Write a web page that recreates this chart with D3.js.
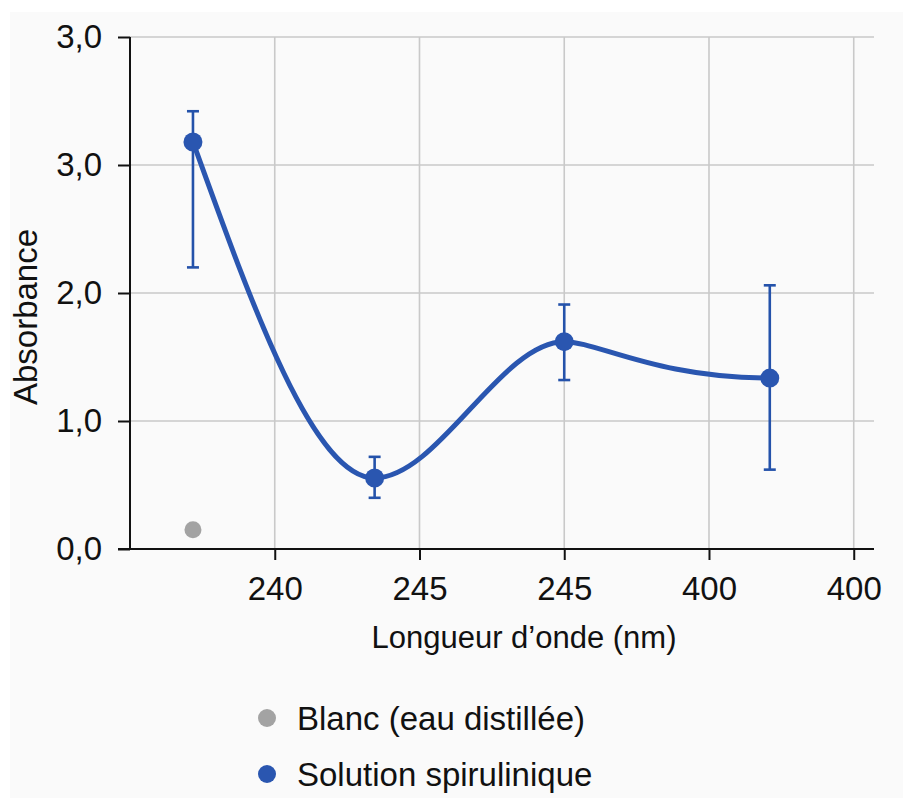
<!DOCTYPE html>
<html>
<head>
<meta charset="utf-8">
<script src="https://cdn.jsdelivr.net/npm/d3@7"></script>
<style>
  html, body { margin: 0; padding: 0; background: #ffffff; }
  svg { display: block; font-family: "Liberation Sans", Arial, sans-serif; }
</style>
</head>
<body>
<div id="chart"></div>
<script>
// data
const xTickPos = [1, 2, 3, 4, 5];
const xTickLabels = ["240", "245", "245", "400", "400"];
const yTickVals = [0, 1, 2, 3, 4];
const yTickLabels = ["0,0", "1,0", "2,0", "3,0", "3,0"];

const solX = [0.435, 1.69, 3.0, 4.42];
const solY = [3.18, 0.555, 1.62, 1.335];
const solHi = [3.42, 0.72, 1.91, 2.06];
const solLo = [2.20, 0.40, 1.32, 0.62];

const blankX = [0.435];
const blankY = [0.15];

const legendLabels = ["Blanc (eau distillée)", "Solution spirulinique"];
const legendColors = ["#a3a3a3", "#2a56b0"];

const width = 903, height = 798;
const blue = "#2a56b0", blueDark = "#2452aa";

const svg = d3.select("#chart").append("svg")
  .attr("width", width)
  .attr("height", height);

svg.append("rect")
  .attr("x", 10).attr("y", 12)
  .attr("width", width - 10).attr("height", height - 12)
  .style("fill", "#fafafa");

const x = d3.scaleLinear().domain([0, 5.14]).range([130, 874]);
const y = d3.scaleLinear().domain([0, 4]).range([549, 37]);

// grid
svg.append("g").selectAll("line.gy")
  .data(yTickVals.slice(1))
  .enter().append("line")
  .attr("x1", x(0)).attr("x2", x(5.14))
  .attr("y1", d => y(d)).attr("y2", d => y(d))
  .style("stroke", "#c9c9c9").style("stroke-width", 1.6);

svg.append("g").selectAll("line.gx")
  .data(xTickPos)
  .enter().append("line")
  .attr("x1", d => x(d)).attr("x2", d => x(d))
  .attr("y1", y(0)).attr("y2", y(4))
  .style("stroke", "#c9c9c9").style("stroke-width", 1.6);

// axes
const yAxis = d3.axisLeft(y)
  .tickValues(yTickVals)
  .tickSize(12)
  .tickPadding(16)
  .tickFormat((d, i) => yTickLabels[i]);

const gy = svg.append("g")
  .attr("transform", "translate(" + x(0) + ",0)")
  .call(yAxis);
gy.select(".domain").attr("d", "M0," + y(4) + "V" + y(0)).style("stroke", "#111").style("stroke-width", 2);
gy.selectAll(".tick line").style("stroke", "#111").style("stroke-width", 2);
gy.selectAll(".tick text")
  .style("font-size", "33px")
  .style("fill", "#111")
  .style("font-family", "Liberation Sans, Arial, sans-serif");

const xAxis = d3.axisBottom(x)
  .tickValues(xTickPos)
  .tickSize(11)
  .tickPadding(17)
  .tickFormat((d, i) => xTickLabels[i]);

const gx = svg.append("g")
  .attr("transform", "translate(0," + y(0) + ")")
  .call(xAxis);
gx.select(".domain").attr("d", "M" + (x(0) - 12) + ",0H" + x(5.14)).style("stroke", "#111").style("stroke-width", 2);
gx.selectAll(".tick line").style("stroke", "#111").style("stroke-width", 2);
gx.selectAll(".tick text")
  .style("font-size", "33px")
  .style("fill", "#111")
  .style("font-family", "Liberation Sans, Arial, sans-serif");

// axis titles
svg.append("text")
  .attr("x", 524).attr("y", 648)
  .attr("text-anchor", "middle")
  .style("font-size", "31px")
  .style("fill", "#111")
  .text("Longueur d\u2019onde (nm)");

svg.append("text")
  .attr("transform", "translate(37,317) rotate(-90)")
  .attr("text-anchor", "middle")
  .style("font-size", "33px")
  .style("fill", "#111")
  .text("Absorbance");

// solution series
const pts = solX.map((d, i) => ({ x: d, y: solY[i], hi: solHi[i], lo: solLo[i] }));

// smooth path through the points: flat tangents at turning points,
// steep start, and a last stretch that eases into the final point
function smoothPath(p) {
  const px = p.map(d => x(d.x)), py = p.map(d => y(d.y));
  const n = p.length;
  const s = d3.range(n - 1).map(i => (py[i + 1] - py[i]) / (px[i + 1] - px[i]));
  const m = d3.range(n).map(i => {
    if (i === 0) return 1.5 * s[0];
    if (i === n - 1) return 0;
    return s[i - 1] * s[i] <= 0 ? 0 : 2 / (1 / s[i - 1] + 1 / s[i]);
  });
  const path = d3.path();
  path.moveTo(px[0], py[0]);
  for (let i = 0; i < n - 1; i++) {
    const h = px[i + 1] - px[i];
    const last = i === n - 2;
    const a = last ? 0.16 : 1 / 3, b = last ? 0.55 : 1 / 3;
    path.bezierCurveTo(
      px[i] + h * a, py[i] + m[i] * h * a,
      px[i + 1] - h * b, py[i + 1] - m[i + 1] * h * b,
      px[i + 1], py[i + 1]);
  }
  return path.toString();
}

svg.append("path")
  .datum(pts)
  .attr("d", smoothPath)
  .style("fill", "none")
  .style("stroke", blue)
  .style("stroke-width", 5);

const err = svg.append("g").selectAll("g")
  .data(pts)
  .enter().append("g")
  .style("stroke", blueDark)
  .style("stroke-width", 2.6);

err.append("line")
  .attr("x1", d => x(d.x)).attr("x2", d => x(d.x))
  .attr("y1", d => y(d.hi)).attr("y2", d => y(d.lo));
err.append("line")
  .attr("x1", d => x(d.x) - 6).attr("x2", d => x(d.x) + 6)
  .attr("y1", d => y(d.hi)).attr("y2", d => y(d.hi));
err.append("line")
  .attr("x1", d => x(d.x) - 6).attr("x2", d => x(d.x) + 6)
  .attr("y1", d => y(d.lo)).attr("y2", d => y(d.lo));

svg.append("g").selectAll("circle")
  .data(pts)
  .enter().append("circle")
  .attr("cx", d => x(d.x))
  .attr("cy", d => y(d.y))
  .attr("r", 9.5)
  .style("fill", blue);

// blank
svg.append("g").selectAll("circle")
  .data(blankX.map((d, i) => ({ x: d, y: blankY[i] })))
  .enter().append("circle")
  .attr("cx", d => x(d.x))
  .attr("cy", d => y(d.y))
  .attr("r", 8.5)
  .style("fill", legendColors[0]);

// legend
const leg = svg.append("g").selectAll("g")
  .data(legendLabels)
  .enter().append("g")
  .attr("transform", (d, i) => "translate(267," + (718 + i * 56) + ")");

leg.append("circle")
  .attr("r", 9)
  .style("fill", (d, i) => legendColors[i]);

leg.append("text")
  .attr("x", 30)
  .attr("y", 12)
  .style("font-size", "33px")
  .style("fill", "#111")
  .text(d => d);
</script>
</body>
</html>
